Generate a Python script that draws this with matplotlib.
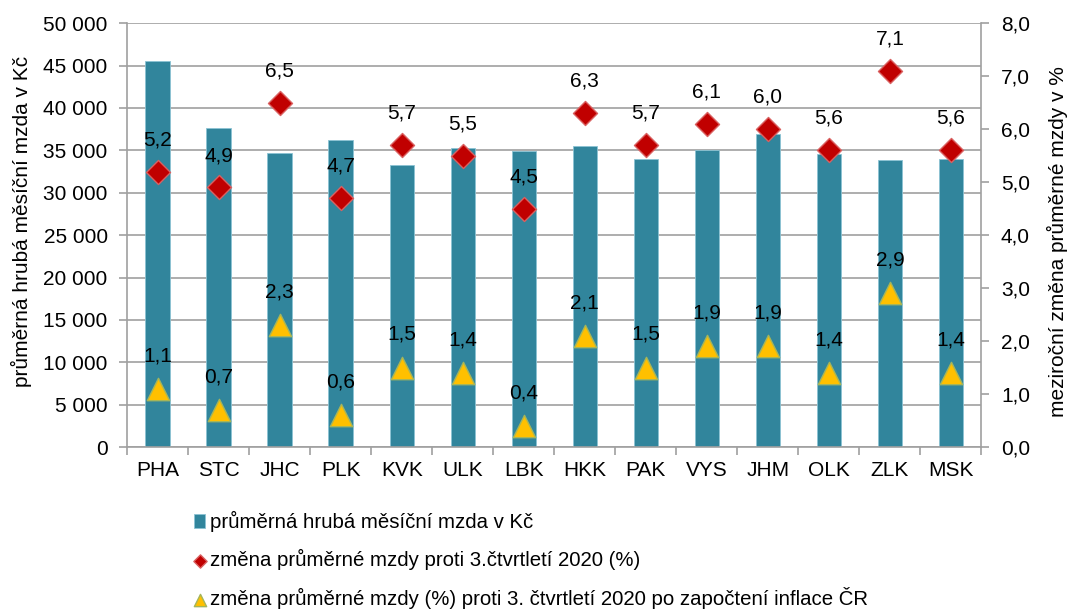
import matplotlib
matplotlib.use("Agg")
import matplotlib.pyplot as plt
from matplotlib.ticker import FuncFormatter, FixedLocator
import numpy as np

plt.rcParams['font.family'] = ['Liberation Sans', 'DejaVu Sans']

# DATA

kraje = ['PHA', 'STC', 'JHC', 'PLK', 'KVK', 'ULK', 'LBK', 'HKK', 'PAK', 'VYS', 'JHM', 'OLK', 'ZLK', 'MSK']
mzda = [45500, 37600, 34700, 36200, 33250, 35300, 34900, 35550, 34000, 35000, 36900, 34550, 33900, 34000]
zmena = [5.2, 4.9, 6.5, 4.7, 5.7, 5.5, 4.5, 6.3, 5.7, 6.1, 6.0, 5.6, 7.1, 5.6]
zmena_infl = [1.1, 0.7, 2.3, 0.6, 1.5, 1.4, 0.4, 2.1, 1.5, 1.9, 1.9, 1.4, 2.9, 1.4]

label_bar = 'průměrná hrubá měsíční mzda v Kč'
label_zmena = 'změna průměrné mzdy proti 3.čtvrtletí 2020 (%)'
label_infl = 'změna průměrné mzdy (%) proti 3. čtvrtletí 2020 po započtení inflace ČR'
label_right = 'meziroční změna průměrné mzdy v %'

# STYLES

bar_color = '#31859C'
grid_color = '#A0A0A0'
fs = 15

fig = plt.figure(figsize=(10.68, 6.10), dpi=100)
ax = fig.add_axes([0.119, 0.267, 0.800, 0.695])
ax2 = ax.twinx()

x = np.arange(len(kraje))

# BARS (left axis)
bars = ax.bar(x, mzda, width=0.4, color=bar_color, edgecolor='#8CC3D3', linewidth=0.6, zorder=2)
ax.set_ylim(0, 50000)
ax.set_xlim(-0.5, len(kraje) - 0.5)
ax.set_yticks(np.arange(0, 50001, 5000))
ax.yaxis.set_major_formatter(FuncFormatter(lambda v, p: f'{int(v):,}'.replace(',', ' ')))
ax.grid(axis='y', color=grid_color, linewidth=1.2, zorder=0)
ax.set_axisbelow(True)
ax.set_xticks(x)
ax.set_xticklabels(kraje, fontsize=fs)
ax.xaxis.set_minor_locator(FixedLocator(np.arange(-0.5, len(kraje), 1)))
ax.tick_params(axis='x', which='major', length=0, pad=10)
ax.tick_params(axis='x', which='minor', length=6, color=grid_color, width=1.2)
ax.tick_params(axis='y', labelsize=fs, length=6, color=grid_color, width=1.2, pad=8)
ax.set_ylabel(label_bar, fontsize=fs)
ax.yaxis.set_label_coords(-0.111, 0.533)

for s in ['top', 'right']:
    ax.spines[s].set_visible(False)
for s in ['left', 'bottom']:
    ax.spines[s].set_color(grid_color)
    ax.spines[s].set_linewidth(1.2)

# MARKERS (right axis)
ax2.set_ylim(0, 8)
ax2.set_yticks(np.arange(0, 8.01, 1))
ax2.yaxis.set_major_formatter(FuncFormatter(lambda v, p: f'{v:.1f}'.replace('.', ',')))
ax2.tick_params(axis='y', labelsize=fs, length=6, color=grid_color, width=1.2, pad=8)
ax2.set_ylabel(label_right, fontsize=fs)
ax2.yaxis.set_label_coords(1.0765, 0.486)
for s in ['top', 'left', 'bottom']:
    ax2.spines[s].set_visible(False)
ax2.spines['right'].set_color(grid_color)
ax2.spines['right'].set_linewidth(1.2)

d = ax2.scatter(x, zmena, marker='D', s=150, color='#C00000', edgecolor='#D96060', linewidth=1.0, zorder=3)
t = ax2.scatter(x, zmena_infl, marker='^', s=260, color='#FFC000', edgecolor='#A5B55A', linewidth=1.0, zorder=3)

for xi, v in zip(x, zmena):
    ax2.annotate(f'{v:.1f}'.replace('.', ','), (xi, v), xytext=(0, 23), textcoords='offset points',
                 ha='center', va='center', fontsize=fs)
for xi, v in zip(x, zmena_infl):
    ax2.annotate(f'{v:.1f}'.replace('.', ','), (xi, v), xytext=(0, 24), textcoords='offset points',
                 ha='center', va='center', fontsize=fs)

# LEGEND
fig.legend([bars, d, t], [label_bar, label_zmena, label_infl],
           loc='upper left', bbox_to_anchor=(0.174, 0.175), frameon=False,
           fontsize=14.7, labelspacing=0.82, handlelength=0.55, handletextpad=0.25,
           borderaxespad=0, markerscale=0.55)

fig.savefig('out.png', dpi=100)
